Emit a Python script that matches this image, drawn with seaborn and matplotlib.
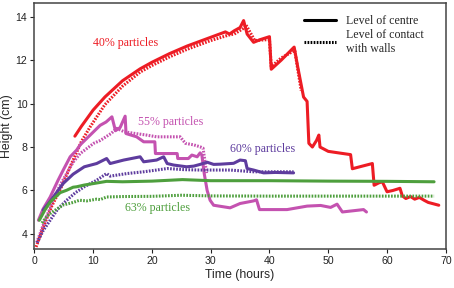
import matplotlib
matplotlib.use("Agg")
import matplotlib.pyplot as plt
import seaborn as sns
import pandas as pd
from matplotlib.lines import Line2D

# ---- data (hours, cm) ----
red_c_x = [6.9, 8.0, 10.0, 12.0, 15.0, 18.0, 20.0, 23.0, 26.0, 29.0, 31.0, 32.5, 33.2, 34.0, 35.0, 35.6,
           36.2, 37.3, 38.5, 40.0, 40.3, 42.0, 44.2, 44.8, 45.8, 46.4, 46.7, 47.3, 48.0, 48.4, 48.6,
           50.0, 52.0, 53.8, 54.1, 55.5, 57.5, 57.8, 58.6, 59.2, 60.0, 61.0, 62.2, 62.6, 63.2,
           64.0, 64.7, 65.5, 66.3, 67.0, 68.8]
red_c_y = [8.5, 8.95, 9.7, 10.3, 11.05, 11.6, 11.9, 12.3, 12.65, 12.95, 13.15, 13.3, 13.2, 13.35, 13.5, 13.82,
           13.2, 12.82, 12.95, 13.08, 11.58, 12.0, 12.6, 11.7, 10.3, 10.1, 8.17, 8.0, 8.3, 8.55, 8.0,
           7.8, 7.72, 7.65, 7.0, 7.1, 7.24, 6.24, 6.35, 6.4, 5.94, 6.0, 6.1, 5.75, 5.63,
           5.72, 5.6, 5.68, 5.55, 5.45, 5.32]
red_w_x = [0.3, 1.5, 3.0, 4.5, 6.6, 8.0, 9.5, 12.0, 15.0, 18.0, 20.0, 23.0, 26.0, 30.0, 33.0, 34.0,
           35.5, 36.0, 37.5, 40.0, 40.3, 42.0, 44.3, 44.8, 45.4]
red_w_y = [3.4, 4.3, 5.3, 6.1, 7.4, 8.25, 8.93, 9.95, 10.8, 11.45, 11.75, 12.15, 12.5, 12.9, 13.15, 13.2,
           13.45, 13.62, 12.9, 12.95, 11.7, 12.1, 12.45, 11.6, 10.6]

mag_c_x = [0.7, 1.5, 2.7, 4.0, 4.9, 6.1, 7.2, 7.8, 9.5, 11.2, 12.2, 13.2, 13.8, 14.6, 15.45, 15.6,
           17.4, 18.6, 20.5, 20.6, 24.3, 24.4, 26.2, 26.8, 27.7, 28.2, 28.5, 28.9, 29.4, 29.9, 30.5,
           33.3, 35.0, 37.3, 37.8, 38.3, 43.0, 46.4, 48.7, 50.4, 51.5, 52.4, 56.0, 56.5]
mag_c_y = [4.63, 5.15, 5.7, 6.45, 6.93, 7.55, 7.86, 8.1, 8.55, 9.0, 9.15, 9.39, 8.75, 8.9, 9.42, 8.62,
           8.47, 8.24, 8.24, 7.7, 7.7, 7.47, 7.47, 7.63, 7.55, 7.73, 7.63, 6.78, 6.0, 5.55, 5.32,
           5.2, 5.4, 5.52, 5.57, 5.12, 5.12, 5.28, 5.31, 5.22, 5.37, 5.01, 5.12, 5.01]
mag_w_x = [0.4, 1.5, 3.2, 4.3, 5.5, 6.6, 7.8, 10.1, 11.2, 13.1, 14.0, 15.3, 17.0, 19.1, 20.8, 23.7,
           24.8, 25.7, 27.1, 28.2, 28.7, 29.0, 29.3]
mag_w_y = [3.6, 4.4, 5.55, 6.2, 6.78, 7.3, 7.7, 8.17, 8.3, 8.63, 8.86, 8.7, 8.63, 8.55, 8.47, 8.47,
           8.47, 8.17, 8.1, 8.01, 7.95, 7.4, 6.8]

pur_c_x = [1.5, 2.7, 4.9, 6.6, 8.5, 10.6, 12.3, 12.9, 15.2, 18.0, 18.6, 20.8, 22.0, 22.6, 23.7, 25.9,
           27.1, 28.2, 29.4, 30.5, 31.6, 33.9, 35.0, 35.9, 36.2, 37.3, 39.0, 41.0, 44.1]
pur_c_y = [5.1, 5.5, 6.32, 6.75, 7.09, 7.24, 7.47, 7.24, 7.4, 7.55, 7.32, 7.4, 7.55, 7.24, 7.17, 7.09,
           7.12, 7.2, 7.3, 7.2, 7.21, 7.25, 7.4, 7.37, 7.01, 6.94, 6.81, 6.83, 6.81]
pur_w_x = [0.5, 1.5, 2.7, 4.0, 5.5, 7.0, 8.5, 10.6, 12.3, 12.9, 15.8, 18.6, 20.8, 22.6, 25.4, 28.2,
           33.3, 37.3, 44.1]
pur_w_y = [3.6, 4.15, 4.63, 5.15, 5.55, 5.9, 6.17, 6.47, 6.78, 6.66, 6.78, 6.86, 6.94, 7.01, 6.96, 6.94,
           6.94, 6.86, 6.86]

grn_c_x = [0.85, 1.8, 2.7, 4.4, 5.5, 6.6, 7.2, 8.5, 10.1, 12.3, 15.0, 20.0, 25.2, 30.0, 40.0, 50.0,
           60.0, 68.0]
grn_c_y = [4.63, 5.1, 5.47, 5.9, 6.01, 6.15, 6.17, 6.25, 6.32, 6.42, 6.4, 6.43, 6.5, 6.45, 6.45, 6.43,
           6.42, 6.4]
grn_w_x = [1.3, 2.1, 3.0, 4.4, 4.9, 6.6, 7.7, 8.9, 10.6, 11.2, 12.3, 15.0, 20.0, 25.0, 30.0, 40.0,
           50.0, 60.0, 68.0]
grn_w_y = [4.5, 4.8, 5.0, 5.24, 5.33, 5.45, 5.55, 5.52, 5.6, 5.58, 5.7, 5.72, 5.73, 5.78, 5.75, 5.74,
           5.74, 5.74, 5.74]

labels = ["40% particles", "55% particles", "60% particles", "63% particles"]
label_x = [15.5, 23.2, 38.9, 21.0]
label_y = [12.79, 9.15, 7.89, 5.17]

x_ticks = [0, 10, 20, 30, 40, 50, 60, 70]
y_ticks = [4, 6, 8, 10, 12, 14]

# ---- style ----
sns.set_theme(style="ticks")
plt.rcParams["font.family"] = ["Liberation Sans", "DejaVu Sans"]

RED = "#ED1C24"
MAG = "#C452B0"
PUR = "#5E3C9E"
GRN = "#4E9F3D"

fig = plt.figure(figsize=(4.54, 2.88), dpi=100)
ax = fig.add_axes([0.0756, 0.135, 0.9064, 0.8546])

lw = 2.2
dot = (0, (0.55, 0.45))

series = [
    (red_c_x, red_c_y, RED, "-"), (red_w_x, red_w_y, RED, dot),
    (mag_c_x, mag_c_y, MAG, "-"), (mag_w_x, mag_w_y, MAG, dot),
    (pur_c_x, pur_c_y, PUR, "-"), (pur_w_x, pur_w_y, PUR, dot),
    (grn_c_x, grn_c_y, GRN, "-"), (grn_w_x, grn_w_y, GRN, dot),
]
for xs, ys, col, ls in series:
    df = pd.DataFrame({"t": xs, "h": ys})
    sns.lineplot(data=df, x="t", y="h", ax=ax, color=col, linestyle=ls,
                 linewidth=lw, estimator=None, sort=False)

for txt, tx, ty, col in zip(labels, label_x, label_y, [RED, MAG, PUR, GRN]):
    ax.text(tx, ty, txt, color=col, ha="center", va="center",
            fontsize=8.6, family=["Liberation Serif", "DejaVu Serif"])

handles = [Line2D([0], [0], color="black", lw=lw, linestyle="-"),
           Line2D([0], [0], color="black", lw=lw, linestyle=dot)]
leg = ax.legend(handles, ["Level of centre", "Level of contact\nwith walls"],
                loc="upper left", bbox_to_anchor=(0.635, 0.985), frameon=False,
                prop={"family": "Liberation Serif", "size": 8.6},
                handlelength=2.7, handletextpad=0.8, labelspacing=0.15,
                borderaxespad=0.3)

ax.set_xlim(0, 70)
ax.set_ylim(3.3, 14.63)
ax.set_xticks(x_ticks)
ax.set_yticks(y_ticks)
ax.set_xlabel("Time (hours)", fontsize=8.8, labelpad=2)
ax.set_ylabel("Height (cm)", fontsize=8.8)
ax.yaxis.set_label_coords(-0.051, 0.5)
ax.tick_params(labelsize=7.6, length=3, width=0.8, colors="#222222", pad=2)
for s in ax.spines.values():
    s.set_visible(True)
    s.set_color("#444444")
    s.set_linewidth(1.1)

fig.savefig("out.png", dpi=100)
